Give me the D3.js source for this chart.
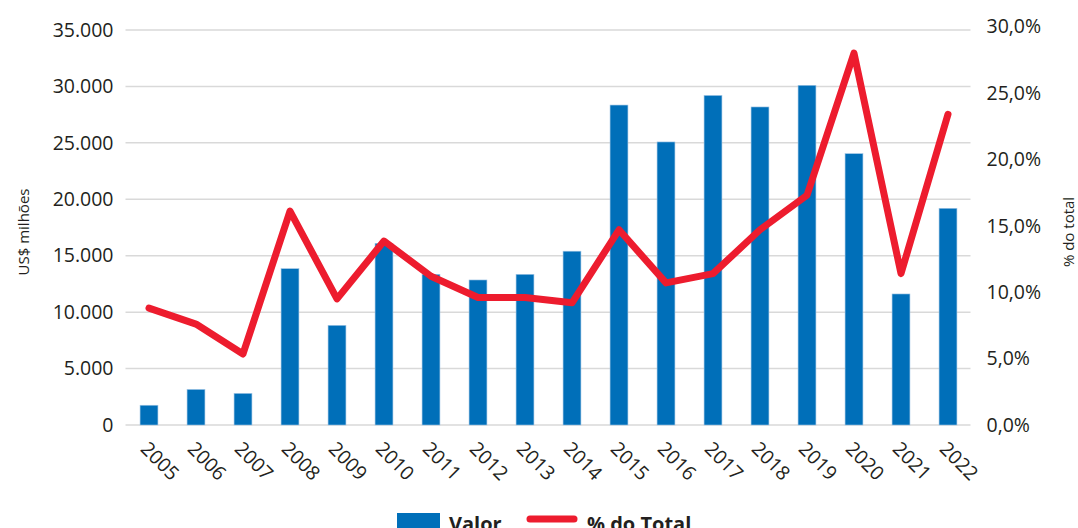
<!DOCTYPE html>
<html><head><meta charset="utf-8">
<script src="https://cdn.jsdelivr.net/npm/d3@7"></script>
<style>
html,body{margin:0;padding:0;background:#fff;}
svg{display:block;}
text{font-family:"Open Sans","Noto Sans",sans-serif;fill:#231f20;}
</style></head>
<body>
<svg id="chart" width="1078" height="528"></svg>
<script>
const years = ["2005","2006","2007","2008","2009","2010","2011","2012","2013","2014","2015","2016","2017","2018","2019","2020","2021","2022"];
const valor = [1750,3150,2800,13850,8830,16100,13350,12850,13350,15400,28350,25080,29200,28180,30100,24040,11610,19200];
const pctTotal = [8.8,7.6,5.35,16.1,9.5,13.85,11.2,9.6,9.6,9.2,14.7,10.7,11.4,14.7,17.3,28.0,11.4,23.4];
const leftTicks = [0,5000,10000,15000,20000,25000,30000,35000];
const rightTicks = [0,5,10,15,20,25,30];
const leftTitle = "US$ milhões";
const rightTitle = "% do total";
const legendLabels = ["Valor","% do Total"];

const svg = d3.select("#chart");
const plotL = 125.5, plotR = 971.5, plotTop = 30, plotBottom = 425;

const x = d3.scaleBand().domain(years).range([plotL, plotR]).paddingInner(0.62).paddingOuter(0.31);
const yL = d3.scaleLinear().domain([0,35000]).range([plotBottom, plotTop]);
const yR = d3.scaleLinear().domain([0,30]).range([plotBottom, 26.6]);

const fmtL = v => d3.format(",")(v).replace(/,/g,".");
const fmtR = v => d3.format(".1f")(v).replace(".",",") + "%";

// gridlines
svg.append("g").selectAll("line").data(leftTicks).join("line")
  .attr("x1", plotL).attr("x2", plotR-1)
  .attr("y1", d=>yL(d)).attr("y2", d=>yL(d))
  .attr("stroke", "#d9d9d9").attr("stroke-width", 1.5);

// left axis
const gL = svg.append("g").attr("transform", `translate(${plotL-12},0)`)
  .call(d3.axisLeft(yL).tickValues(leftTicks).tickFormat(fmtL).tickSize(0).tickPadding(0));
gL.select(".domain").remove();
gL.selectAll("text").attr("font-size", 19.5).attr("fill","#231f20").attr("dy","0.32em")
  .style("font-family",'"Open Sans","Noto Sans",sans-serif');

// right axis
const gR = svg.append("g").attr("transform", `translate(${plotR+15},0)`)
  .call(d3.axisRight(yR).tickValues(rightTicks).tickFormat(fmtR).tickSize(0).tickPadding(0));
gR.select(".domain").remove();
gR.selectAll("text").attr("font-size", 19.5).attr("fill","#231f20").attr("dy","0.32em")
  .style("font-family",'"Open Sans","Noto Sans",sans-serif');

// bars
svg.append("g").selectAll("rect").data(valor).join("rect")
  .attr("x", (d,i)=>x(years[i]))
  .attr("width", x.bandwidth())
  .attr("y", d=>yL(d))
  .attr("height", d=>yL(0)-yL(d))
  .attr("fill", "#006fb9")
  .attr("stroke", "#9cc3e4").attr("stroke-width", 0.6);

// line
const line = d3.line()
  .x((d,i)=>x(years[i]) + x.bandwidth()/2)
  .y(d=>yR(d));
svg.append("path").datum(pctTotal)
  .attr("d", line)
  .attr("fill","none")
  .attr("stroke","#ed1c2e")
  .attr("stroke-width", 7)
  .attr("stroke-linejoin","round")
  .attr("stroke-linecap","round");

// x labels
const gX = svg.append("g").attr("transform", `translate(0,${plotBottom})`)
  .call(d3.axisBottom(x).tickSize(0).tickPadding(0));
gX.select(".domain").remove();
gX.selectAll(".tick text")
  .attr("font-size", 19.5).attr("fill","#231f20")
  .attr("text-anchor","middle").attr("dy","0.35em")
  .attr("y", 0)
  .attr("transform", "translate(11,36) rotate(45)")
  .style("font-family",'"Open Sans","Noto Sans",sans-serif');

// axis titles
svg.append("text")
  .attr("transform", `translate(29,232) rotate(-90)`)
  .attr("text-anchor","middle").attr("font-size", 15).text(leftTitle);
svg.append("text")
  .attr("transform", `translate(1074,232) rotate(-90)`)
  .attr("text-anchor","middle").attr("font-size", 15).text(rightTitle);

// legend
const lg = svg.append("g");
lg.append("rect").attr("x",397).attr("y",513).attr("width",43).attr("height",20).attr("fill","#006fb9");
lg.append("text").attr("x",449).attr("y",531).attr("font-size",20).attr("font-weight","bold").text(legendLabels[0]);
lg.append("line").attr("x1",530).attr("x2",574).attr("y1",519).attr("y2",519)
  .attr("stroke","#ed1c2e").attr("stroke-width",7).attr("stroke-linecap","round");
lg.append("text").attr("x",587).attr("y",531).attr("font-size",20).attr("font-weight","bold").text(legendLabels[1]);
</script>
</body></html>
